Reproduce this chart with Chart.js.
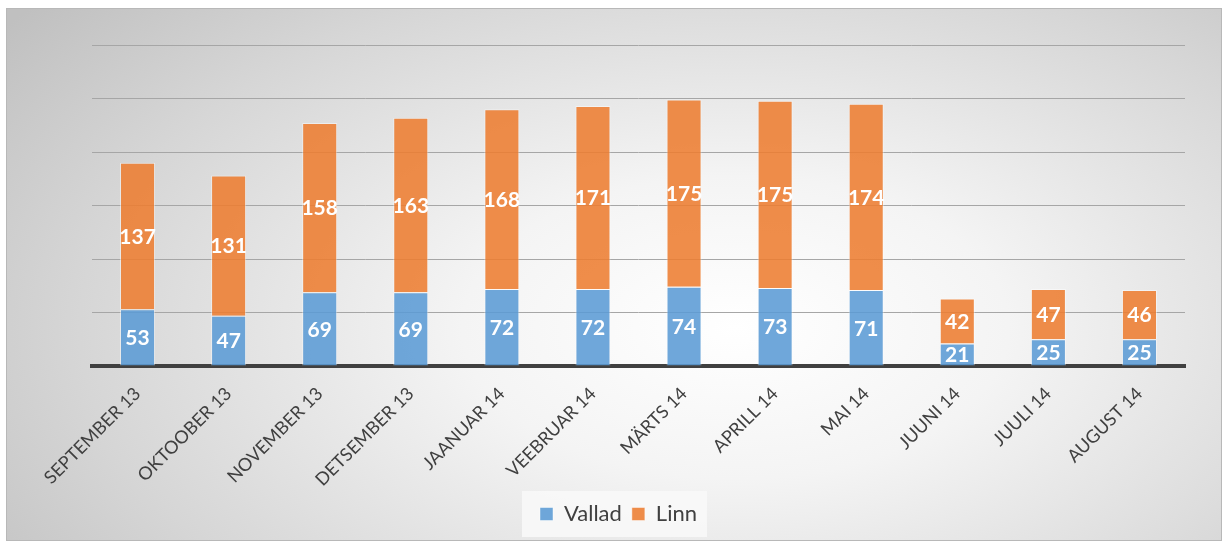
<!DOCTYPE html>
<html>
<head>
<meta charset="utf-8">
<script src="https://cdn.jsdelivr.net/npm/chart.js@4/dist/chart.umd.min.js"></script>
<style>
  html, body { margin: 0; padding: 0; background: #fff; }
  #wrap { position: relative; width: 1228px; height: 542px; }
  #bg {
    position: absolute; left: 6px; top: 8px; width: 1214px; height: 531px;
    border: 1px solid #b8b8b8;
    background: radial-gradient(ellipse 75% 95% at 60% 60%, #ffffff 0%, #f4f4f4 30%, #d6d6d6 72%, #c0c0c0 100%);
  }
  canvas { position: absolute; left: 0; top: 0; }
</style>
</head>
<body>
<div id="wrap">
  <div id="bg"></div>
  <canvas id="chart" width="1228" height="542"></canvas>
</div>
<script>
const months = [
  'SEPTEMBER 13', 'OKTOOBER 13', 'NOVEMBER 13', 'DETSEMBER 13', 'JAANUAR 14', 'VEEBRUAR 14',
  'MÄRTS 14', 'APRILL 14', 'MAI 14', 'JUUNI 14', 'JUULI 14', 'AUGUST 14'
];
const vallad = [53, 47, 69, 69, 72, 72, 74, 73, 71, 21, 25, 25];
const linn = [137, 131, 158, 163, 168, 171, 175, 175, 174, 42, 47, 46];

const textColor = '#404040';
const labelFont = 'Lato, "Open Sans", sans-serif';

// white value labels in the middle of every bar segment
const barLabels = {
  id: 'barLabels',
  afterDatasetsDraw(chart) {
    const { ctx } = chart;
    ctx.save();
    ctx.fillStyle = '#ffffff';
    ctx.font = `bold 21px ${labelFont}`;
    ctx.textAlign = 'center';
    ctx.textBaseline = 'middle';
    chart.data.datasets.forEach((ds, i) => {
      chart.getDatasetMeta(i).data.forEach((bar, j) => {
        ctx.fillText(String(ds.data[j]), bar.x, (bar.y + bar.base) / 2 + 1);
      });
    });
    ctx.restore();
  }
};

// legend centred on the whole canvas, with a light panel behind it
const legendShift = 26;
const legendPanel = {
  id: 'legendPanel',
  afterLayout(chart) {
    const lg = chart.legend;
    if (!lg) return;
    lg.left += legendShift;
    lg.right += legendShift;
    lg.legendHitBoxes.forEach(b => { b.left += legendShift; });
  },
  beforeDraw(chart) {
    const boxes = chart.legend && chart.legend.legendHitBoxes;
    if (!boxes || !boxes.length) return;
    const left = Math.min(...boxes.map(b => b.left)) - 18;
    const right = Math.max(...boxes.map(b => b.left + b.width)) + 10;
    const top = Math.min(...boxes.map(b => b.top)) - 12;
    const bottom = Math.max(...boxes.map(b => b.top + b.height)) + 12;
    const { ctx } = chart;
    ctx.save();
    ctx.fillStyle = 'rgba(248,248,248,0.95)';
    ctx.fillRect(left, top, right - left, bottom - top);
    ctx.restore();
  }
};

new Chart(document.getElementById('chart'), {
  type: 'bar',
  data: {
    labels: months,
    datasets: [
      {
        label: 'Vallad',
        data: vallad,
        backgroundColor: 'rgba(91,155,213,0.88)',
        borderColor: 'rgba(255,255,255,0.45)',
        borderWidth: 1
      },
      {
        label: 'Linn',
        data: linn,
        backgroundColor: 'rgba(237,125,49,0.88)',
        borderColor: 'rgba(255,255,255,0.45)',
        borderWidth: 1
      }
    ]
  },
  options: {
    responsive: false,
    animation: false,
    layout: { padding: { left: 0, right: 43, top: 45, bottom: 7 } },
    datasets: {
      bar: { categoryPercentage: 1, barPercentage: 0.385 }
    },
    scales: {
      x: {
        stacked: true,
        grid: { display: false },
        border: { color: '#404040', width: 4 },
        ticks: {
          color: textColor,
          font: { family: labelFont, size: 18 },
          minRotation: 45,
          maxRotation: 45,
          padding: 9
        },
        afterFit(scale) { scale.height = 127; }
      },
      y: {
        stacked: true,
        min: 0,
        max: 300,
        ticks: { display: false, stepSize: 50 },
        grid: { color: '#a6a6a6', lineWidth: 1, drawTicks: false },
        border: { display: false },
        afterFit(scale) { scale.width = 92; }
      }
    },
    plugins: {
      legend: {
        position: 'bottom',
        labels: {
          color: textColor,
          font: { family: labelFont, size: 22 },
          boxWidth: 13,
          boxHeight: 13,
          padding: 10
        }
      },
      tooltip: { enabled: false }
    }
  },
  plugins: [barLabels, legendPanel]
});
</script>
</body>
</html>
